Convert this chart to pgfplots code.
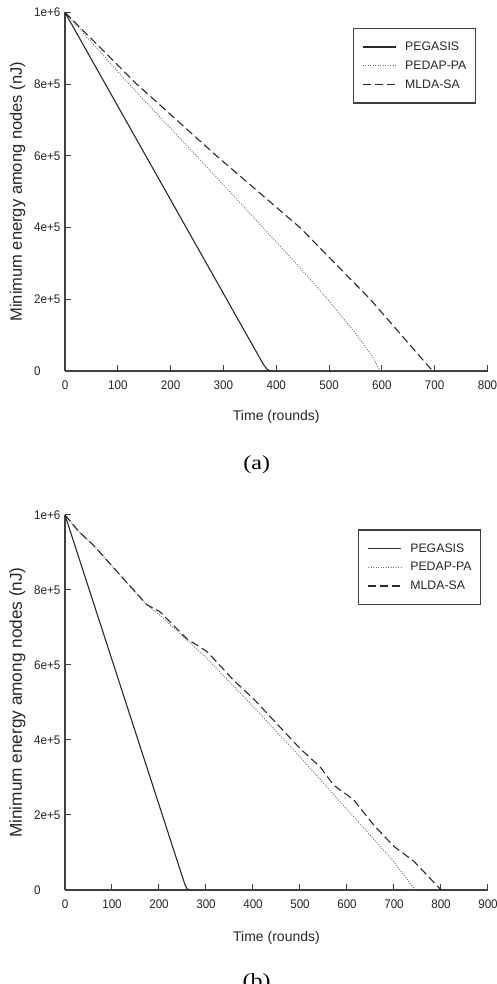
\documentclass[border=0pt]{standalone}
\usepackage{pgfplots}
\pgfplotsset{compat=1.18}
\usepackage{fontspec}
\setmainfont{Liberation Sans}
\newfontfamily\tickfont{Liberation Sans}[FakeStretch=0.93]
\newfontfamily\capfont{Liberation Serif}[FakeStretch=1.2]
\definecolor{axc}{HTML}{404040}
\definecolor{lnc}{HTML}{2A2A2A}
\definecolor{dotc}{HTML}{707070}
\pgfplotsset{
  common/.style={
    scale only axis, anchor=south west,
    axis x line=bottom, axis y line=left,
    axis line style={-, line width=1.2pt, color=axc},
    tick align=inside, major tick length=6pt,
    every tick/.style={line width=1pt, color=axc},
    ymin=0, ymax=1000000, xmin=0,
    ytick={0,200000,400000,600000,800000,1000000},
    yticklabels={0,2e+5,4e+5,6e+5,8e+5,1e+6},
    scaled y ticks=false, scaled x ticks=false,
    /pgf/number format/assume math mode=true,
    yticklabel style={anchor=west, inner sep=0pt, xshift=-31pt, font=\tickfont\fontsize{12.5}{12.5}\selectfont, text=black!85},
    xticklabel style={anchor=north, inner sep=0pt, yshift=-10pt, font=\tickfont\fontsize{12.5}{12.5}\selectfont, text=black!85},
    xlabel={Time (rounds)}, ylabel={Minimum energy among nodes (nJ)},
    legend cell align=left,
    legend style={draw=axc, line width=1.2pt, inner xsep=9pt, inner ysep=13.5pt, column sep=8.7pt, row sep=8.7pt, font=\fontsize{12.3}{12.3}\selectfont, text=black!85, nodes={inner sep=0pt}},
    legend image code/.code={\draw[##1] (0pt,0pt) -- (33pt,0pt);},
  },
  s1/.style={lnc, line width=1.1pt},
  s2/.style={dotc, line width=0.9pt, dash pattern=on 1pt off 1.5pt},
  s3/.style={lnc, line width=1.1pt, dash pattern=on 8pt off 4pt},
}
\begin{document}
\begin{tikzpicture}
\useasboundingbox (0pt,0pt) rectangle (497pt,984pt);
\begin{axis}[common,
  at={(65pt,613pt)}, width=422.5pt, height=358.5pt,
  xmax=800, xtick={0,100,...,800},
  xlabel style={at={(axis description cs:0.5,-0.1088)}, anchor=north, inner sep=0pt, font=\fontsize{14}{14}\selectfont, text=black!85},
  ylabel style={at={(axis description cs:-0.1124,0.5)}, anchor=center, inner sep=0pt, font=\fontsize{16.5}{16.5}\selectfont, text=black!85},
  legend style={at={(rel axis cs:0.9728,0.957)}, anchor=north east},
]
\addplot[s1] coordinates {(0,1000000)(375,20000)(382,6000)(388,0)};
\addplot[s2] coordinates {(0,1000000)(115,810000)(249,600000)(375,400000)(440,296000)(499,197000)(550,105000)(580,45000)(597,0)(700,0)};
\addplot[s3] coordinates {(0,1000000)(136,800000)(287,600000)(445,400000)(578,200000)(690,10000)(697,0)};
\legend{PEGASIS,PEDAP-PA,MLDA-SA}
\end{axis}
\begin{axis}[common,
  at={(65pt,94pt)}, width=423pt, height=375pt,
  xmax=900, xtick={0,100,...,900},
  xlabel style={at={(axis description cs:0.5,-0.1093)}, anchor=north, inner sep=0pt, font=\fontsize{14}{14}\selectfont, text=black!85},
  ylabel style={at={(axis description cs:-0.1124,0.5)}, anchor=center, inner sep=0pt, font=\fontsize{17.2}{17.2}\selectfont, text=black!85},
  legend style={at={(rel axis cs:0.984,0.9615)}, anchor=north east},
]
\addplot[s1] coordinates {(0,1000000)(255,15000)(260,3000)(266,0)};
\addplot[s2] coordinates {(0,1000000)(30,955000)(60,920000)(170,765000)(200,735000)(300,620000)(400,490000)(500,355000)(600,215000)(700,75000)(745,0)};
\addplot[s3] coordinates {(0,1000000)(30,955000)(60,920000)(174,761000)(202,742000)(259,670000)(302,636000)(359,559000)(401,510000)(451,443000)(501,376000)(543,328000)(572,279000)(614,241000)(657,173000)(700,116000)(742,77000)(798,3000)(802,0)};
\legend{PEGASIS,PEDAP-PA,MLDA-SA}
\end{axis}
\node[font=\capfont\fontsize{20}{20}\selectfont, anchor=north, inner sep=0pt] at (256.7pt,529pt) {(a)};
\node[font=\capfont\fontsize{20}{20}\selectfont, anchor=north, inner sep=0pt] at (256.7pt,10.7pt) {(b)};
\end{tikzpicture}
\end{document}
